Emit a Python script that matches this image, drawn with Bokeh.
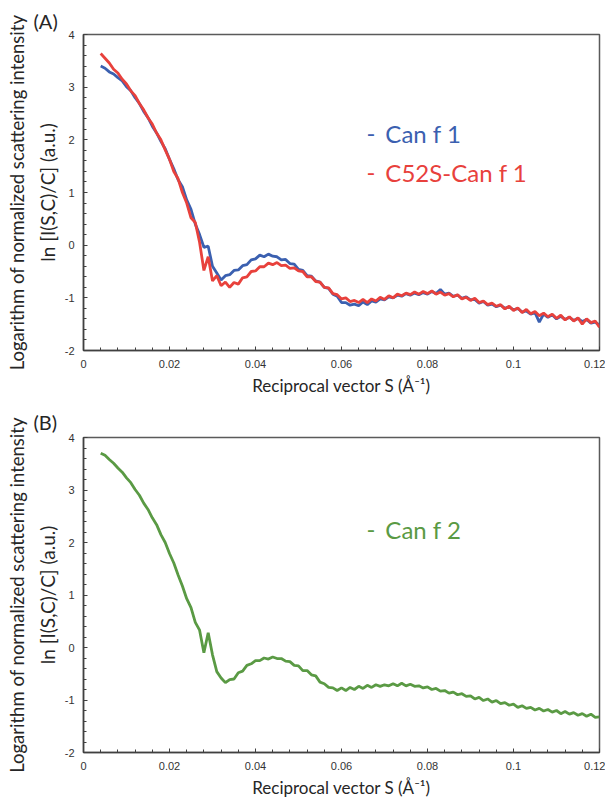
import math
from bokeh.plotting import figure
from bokeh.layouts import column
from bokeh.models import FixedTicker, CustomJSTickFormatter, Label, Range1d, LinearAxis
from bokeh.embed import file_html
from bokeh.resources import INLINE

# ---------------- data ----------------
S = [round(0.004 + 0.001 * i, 3) for i in range(117)]  # sampling grid 0.004 .. 0.120

can_f1 = [
    3.40, 3.36, 3.29, 3.25, 3.18, 3.12, 3.01, 2.93, 2.80, 2.69,
    2.54, 2.42, 2.26, 2.13, 1.97, 1.83, 1.63, 1.45, 1.24, 1.11,
    0.86, 0.68, 0.40, 0.20, -0.04, -0.02, -0.40, -0.53, -0.66, -0.58,
    -0.56, -0.48, -0.47, -0.39, -0.37, -0.28, -0.26, -0.19, -0.22, -0.17,
    -0.21, -0.22, -0.28, -0.27, -0.35, -0.36, -0.46, -0.48, -0.58, -0.59,
    -0.68, -0.70, -0.80, -0.82, -0.93, -0.97, -1.09, -1.09, -1.14, -1.12,
    -1.15, -1.08, -1.13, -1.06, -1.08, -1.02, -1.04, -0.98, -1.00, -0.95,
    -0.97, -0.92, -0.95, -0.91, -0.94, -0.90, -0.93, -0.88, -0.92, -0.84,
    -0.93, -0.91, -0.97, -0.95, -1.01, -0.98, -1.04, -1.03, -1.10, -1.07,
    -1.14, -1.12, -1.17, -1.14, -1.20, -1.17, -1.23, -1.20, -1.27, -1.25,
    -1.31, -1.28, -1.46, -1.31, -1.37, -1.32, -1.40, -1.35, -1.41, -1.37,
    -1.43, -1.39, -1.45, -1.41, -1.48, -1.46, -1.52,
]

c52s_can_f1 = [
    3.64, 3.55, 3.46, 3.34, 3.27, 3.15, 3.06, 2.93, 2.84, 2.69,
    2.57, 2.42, 2.30, 2.13, 2.00, 1.81, 1.63, 1.40, 1.26, 1.00,
    0.80, 0.52, 0.43, 0.05, -0.48, -0.22, -0.68, -0.58, -0.77, -0.70,
    -0.80, -0.71, -0.74, -0.62, -0.60, -0.50, -0.49, -0.41, -0.41, -0.34,
    -0.37, -0.33, -0.39, -0.38, -0.44, -0.43, -0.49, -0.50, -0.60, -0.60,
    -0.69, -0.70, -0.80, -0.81, -0.92, -0.94, -1.02, -1.00, -1.07, -1.05,
    -1.09, -1.03, -1.09, -1.02, -1.06, -0.99, -1.03, -0.96, -1.00, -0.93,
    -0.96, -0.91, -0.94, -0.89, -0.93, -0.88, -0.92, -0.87, -0.93, -0.89,
    -0.95, -0.92, -0.98, -0.94, -1.02, -0.99, -1.05, -1.01, -1.09, -1.06,
    -1.13, -1.10, -1.16, -1.13, -1.21, -1.16, -1.24, -1.19, -1.28, -1.22,
    -1.30, -1.26, -1.34, -1.29, -1.36, -1.31, -1.39, -1.33, -1.42, -1.36,
    -1.44, -1.38, -1.50, -1.40, -1.47, -1.44, -1.56,
]

can_f2 = [
    3.70, 3.66, 3.58, 3.51, 3.42, 3.34, 3.23, 3.14, 3.01, 2.90,
    2.75, 2.63, 2.47, 2.34, 2.15, 2.00, 1.79, 1.61, 1.38, 1.17,
    0.93, 0.76, 0.48, 0.33, -0.10, 0.28, -0.14, -0.46, -0.58, -0.67,
    -0.61, -0.60, -0.48, -0.45, -0.34, -0.31, -0.25, -0.25, -0.20, -0.22,
    -0.18, -0.21, -0.21, -0.26, -0.27, -0.34, -0.35, -0.44, -0.44, -0.52,
    -0.54, -0.66, -0.69, -0.76, -0.77, -0.82, -0.77, -0.82, -0.76, -0.80,
    -0.74, -0.78, -0.72, -0.76, -0.71, -0.74, -0.71, -0.73, -0.69, -0.73,
    -0.68, -0.73, -0.70, -0.74, -0.73, -0.77, -0.75, -0.80, -0.78, -0.83,
    -0.82, -0.87, -0.85, -0.90, -0.88, -0.93, -0.92, -0.98, -0.95, -1.01,
    -0.98, -1.04, -1.01, -1.07, -1.05, -1.10, -1.08, -1.14, -1.11, -1.16,
    -1.14, -1.19, -1.16, -1.21, -1.18, -1.23, -1.20, -1.26, -1.22, -1.27,
    -1.24, -1.29, -1.26, -1.31, -1.27, -1.33, -1.32,
]

x_ticks = [0, 0.02, 0.04, 0.06, 0.08, 0.1, 0.12]
x_minor = [round(0.004 * i, 3) for i in range(31)]
y_ticks = [-2, -1, 0, 1, 2, 3, 4]
y_minor = [round(-2 + 0.2 * i, 1) for i in range(31)]

BLUE = "#3b60b0"
RED = "#e8413c"
GREEN = "#5a9a44"
TXT = "#262626"
TITLE_FONT = "Lato"
TICK_FONT = "Liberation Sans"

YT1 = "Logarithm of normalized scattering intensity"
YT2 = "ln [I(S,C)/C] (a.u.)"
XT = "Reciprocal vector S (Å⁻¹)"


def make_fig(height, top, bottom, panel, title_valign, title_standoff):
    p = figure(width=605, height=height, x_range=Range1d(0, 0.12), y_range=Range1d(-2, 4),
               output_backend="svg", toolbar_location=None,
               min_border_left=83, min_border_right=6,
               min_border_top=top, min_border_bottom=bottom)
    p.grid.visible = False
    p.outline_line_color = "#5a5a5a"
    p.outline_line_width = 1.5
    p.background_fill_color = "white"
    p.border_fill_color = "white"

    p.title.text = panel
    p.title.align = "left"
    p.title.offset = -50
    p.title.vertical_align = title_valign
    p.title.text_font = TITLE_FONT
    p.title.text_font_size = "20px"
    p.title.text_font_style = "normal"
    p.title.text_color = TXT
    p.title.standoff = title_standoff

    xa = p.xaxis[0]
    xa.ticker = FixedTicker(ticks=x_ticks, minor_ticks=x_minor)
    xa.formatter = CustomJSTickFormatter(code="return (Math.round(tick*100)/100).toString();")
    ya = p.yaxis[0]
    ya.ticker = FixedTicker(ticks=y_ticks, minor_ticks=y_minor)
    ya.formatter = CustomJSTickFormatter(code="return tick.toFixed(0);")
    for ax in (xa, ya):
        ax.axis_line_color = "#404040"
        ax.axis_line_width = 1.5
        ax.major_tick_in = 4
        ax.major_tick_out = 0
        ax.minor_tick_in = 3
        ax.minor_tick_out = 0
        ax.major_tick_line_color = "#404040"
        ax.minor_tick_line_color = "#404040"
        ax.major_label_text_font = TICK_FONT
        ax.major_label_text_font_size = "11px"
        ax.major_label_text_color = "#333333"
        ax.axis_label_text_font = TITLE_FONT
        ax.axis_label_text_font_style = "normal"
        ax.axis_label_text_color = TXT
    xa.major_label_standoff = 9
    xa.axis_label = XT
    xa.axis_label_standoff = 4
    xa.axis_label_text_font_size = "17px"
    ya.major_label_standoff = 9
    ya.axis_label = YT2
    ya.axis_label_standoff = 3
    ya.axis_label_text_font_size = "19px"

    # outer y axis carrying only the first line of the y title
    outer = LinearAxis(ticker=FixedTicker(ticks=[]), axis_line_color=None,
                       major_tick_line_color=None, minor_tick_line_color=None,
                       major_label_standoff=0, major_label_text_font_size="1px",
                       axis_label=YT1, axis_label_standoff=5,
                       axis_label_text_font=TITLE_FONT, axis_label_text_font_size="18.5px",
                       axis_label_text_font_style="normal", axis_label_text_color=TXT)
    p.add_layout(outer, "left")
    return p


def legend_entry(p, x_dash, x_text, y, text, color):
    p.add_layout(Label(x=x_dash, y=y, text="-", text_align="left", text_baseline="middle",
                       text_font=TITLE_FONT, text_font_size="24px", text_color=color))
    p.add_layout(Label(x=x_text, y=y, text=text, text_align="left", text_baseline="middle",
                       text_font=TITLE_FONT, text_font_size="24px", text_color=color))


pA = make_fig(400, 34, 50, "(A)", "bottom", 4)
pA.line(S, can_f1, line_width=2.8, color=BLUE)
pA.line(S, c52s_can_f1, line_width=2.8, color=RED)
legend_entry(pA, 0.0658, 0.0702, 2.12, "Can f 1", BLUE)
legend_entry(pA, 0.0658, 0.0702, 1.38, "C52S-Can f 1", RED)

pB = make_fig(400, 37, 48, "(B)", "top", 4)
pB.line(S, can_f2, line_width=2.8, color=GREEN)
legend_entry(pB, 0.0658, 0.0702, 2.24, "Can f 2", GREEN)

layout = column(pA, pB)
open("out.html", "w").write(file_html(layout, INLINE))
